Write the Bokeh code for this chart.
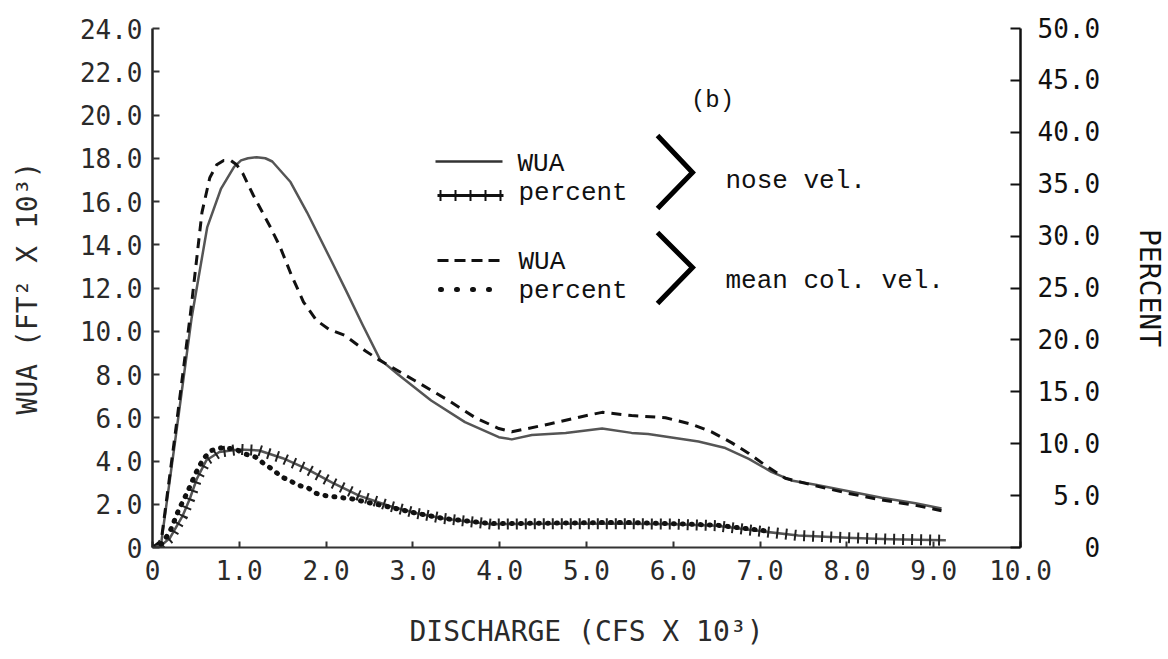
import math
from bokeh.plotting import figure
from bokeh.models import Range1d, LinearAxis, Label, FixedTicker
from bokeh.embed import file_html
from bokeh.resources import INLINE

# ---------------- data ----------------
# WUA, nose velocity (solid), FT^2 x 10^3
q_wua_nose = [0.0, 0.1, 0.26, 0.45, 0.63, 0.79, 0.94, 1.02, 1.10, 1.20, 1.30, 1.38, 1.59, 1.78,
              2.08, 2.24, 2.42, 2.62, 2.83, 3.21, 3.60, 3.99, 4.14, 4.37, 4.76, 5.18, 5.52, 5.71,
              6.29, 6.60, 6.87, 7.13, 7.36, 7.64, 8.02, 8.40, 8.79, 9.09]
wua_nose = [0.0, 0.2, 4.9, 10.6, 14.8, 16.6, 17.6, 17.9, 18.0, 18.05, 18.0, 17.85, 16.9, 15.5,
            13.1, 11.8, 10.3, 8.7, 8.0, 6.8, 5.8, 5.1, 5.0, 5.2, 5.3, 5.5, 5.3, 5.25,
            4.9, 4.6, 4.1, 3.5, 3.1, 2.9, 2.6, 2.3, 2.05, 1.8]

# WUA, mean column velocity (dashed)
q_wua_mean = [0.0, 0.1, 0.26, 0.44, 0.57, 0.66, 0.74, 0.82, 0.90, 0.97, 1.04, 1.10, 1.16, 1.28,
              1.36, 1.47, 1.60, 1.74, 1.89, 2.03, 2.22, 2.45, 2.60, 3.03, 3.41, 3.72, 3.99, 4.14,
              4.56, 4.94, 5.18, 5.52, 5.91, 6.21, 6.44, 6.67, 6.87, 7.06, 7.29, 7.64, 8.02, 8.40,
              8.79, 9.09]
wua_mean = [0.0, 0.3, 5.2, 10.9, 15.5, 17.1, 17.7, 17.9, 17.9, 17.7, 17.3, 16.8, 16.3, 15.4,
            14.8, 13.9, 12.6, 11.35, 10.5, 10.1, 9.8, 9.1, 8.7, 7.7, 6.8, 6.0, 5.5, 5.35,
            5.7, 6.05, 6.25, 6.1, 6.0, 5.7, 5.35, 4.85, 4.35, 3.8, 3.2, 2.85, 2.5, 2.2,
            1.95, 1.7]

# percent, nose velocity (crossed line), %
q_pct_nose = [0.0, 0.1, 0.2, 0.35, 0.43, 0.51, 0.62, 0.77, 1.0, 1.23, 1.5, 1.77, 2.07, 2.38,
              2.73, 3.04, 3.35, 3.9, 4.68, 5.14, 5.5, 6.0, 6.5, 6.87, 7.44, 8.0, 8.5, 9.14]
pct_nose = [0.0, 0.2, 0.9, 3.1, 4.7, 6.6, 8.4, 9.2, 9.45, 9.35, 8.6, 7.6, 6.25, 5.0,
            4.0, 3.3, 2.8, 2.25, 2.3, 2.3, 2.3, 2.25, 2.1, 1.7, 1.15, 0.95, 0.8, 0.7]

# percent, mean column velocity (dotted), %
q_pct_mean = [0.0, 0.1, 0.2, 0.3, 0.4, 0.5, 0.59, 0.68, 0.79, 0.95, 1.07, 1.19, 1.28, 1.37,
              1.49, 1.59, 1.68, 1.80, 1.89, 1.99, 2.18, 2.29, 2.5, 2.73, 3.04, 3.35, 3.9, 4.68,
              5.14, 5.5, 6.0, 6.5, 6.87, 7.06]
pct_mean = [0.0, 0.3, 1.5, 3.6, 5.3, 7.2, 8.6, 9.35, 9.6, 9.5, 9.0, 8.7, 8.1, 7.6,
            6.8, 6.4, 6.0, 5.7, 5.2, 5.0, 4.8, 4.7, 4.3, 3.9, 3.3, 2.8, 2.3, 2.35,
            2.4, 2.4, 2.3, 2.15, 1.8, 1.6]

# axes ticks and labels
x_ticks = [0, 1, 2, 3, 4, 5, 6, 7, 8, 9, 10]
x_tick_labels = ["0", "1.0", "2.0", "3.0", "4.0", "5.0", "6.0", "7.0", "8.0", "9.0", "10.0"]
wua_ticks = [0, 2, 4, 6, 8, 10, 12, 14, 16, 18, 20, 22, 24]
wua_tick_labels = ["0", "2.0", "4.0", "6.0", "8.0", "10.0", "12.0", "14.0", "16.0", "18.0",
                   "20.0", "22.0", "24.0"]
pct_ticks = [0, 5, 10, 15, 20, 25, 30, 35, 40, 45, 50]
pct_tick_labels = ["0", "5.0", "10.0", "15.0", "20.0", "25.0", "30.0", "35.0", "40.0",
                   "45.0", "50.0"]

x_title = "DISCHARGE (CFS X 10³)"
y_title = "WUA (FT² X 10³)"
y2_title = "PERCENT"
panel_tag = "(b)"
legend_wua = "WUA"
legend_pct = "percent"
group_nose = "nose vel."
group_mean = "mean col. vel."

# ---------------- layout ----------------
BL, BR, BT, BB = 152, 140, 28, 104
FW, FH = 868, 519
FL, FT = BL, BT
X_MAX, Y_MAX, P_MAX = 10.0, 24.0, 50.0


def X(px):  # picture pixel -> data x
    return (px - FL) / FW * X_MAX


def Y(py):  # picture pixel -> data y (left axis)
    return (FT + FH - py) / FH * Y_MAX


AX_FONT = "DejaVu Sans Mono"
LEG_FONT = "Liberation Mono"
GRAY = "#555555"
FIGSP = "\u2007"

p = figure(frame_width=FW, frame_height=FH,
           min_border_left=BL, min_border_right=BR, min_border_top=BT, min_border_bottom=BB,
           x_range=Range1d(0, X_MAX), y_range=Range1d(0, Y_MAX),
           output_backend="svg", toolbar_location=None)
p.extra_y_ranges = {"pct": Range1d(0, P_MAX)}
p.grid.visible = False
p.outline_line_color = None
p.background_fill_color = "white"
p.border_fill_color = "white"

# x axis
xa = p.xaxis[0]
xa.ticker = FixedTicker(ticks=x_ticks)
xa.major_label_overrides = {t: l for t, l in zip(x_ticks, x_tick_labels)}
xa.major_tick_in = 6
xa.major_tick_out = 0
xa.minor_tick_line_color = None
xa.axis_line_width = 2
xa.axis_line_color = "#333333"
xa.major_tick_line_width = 2
xa.major_tick_line_color = "#333333"
xa.major_label_text_font = AX_FONT
xa.major_label_text_font_size = "26px"
xa.major_label_text_color = "#2a2a2a"
xa.major_label_standoff = 12
xa.axis_label = x_title
xa.axis_label_text_font = AX_FONT
xa.axis_label_text_font_size = "28px"
xa.axis_label_text_font_style = "normal"
xa.axis_label_text_color = "#2a2a2a"
xa.axis_label_standoff = 32

# left axis
ya = p.yaxis[0]
ya.ticker = FixedTicker(ticks=wua_ticks)
ya.major_label_overrides = {t: l for t, l in zip(wua_ticks, wua_tick_labels)}
ya.major_tick_in = 7
ya.major_tick_out = 0
ya.minor_tick_line_color = None
ya.axis_line_width = 2.5
ya.axis_line_color = "#222222"
ya.major_tick_line_width = 2
ya.major_tick_line_color = "#333333"
ya.major_label_text_font = AX_FONT
ya.major_label_text_font_size = "26px"
ya.major_label_text_color = "#2a2a2a"
ya.major_label_standoff = 10
ya.axis_label = y_title
ya.axis_label_text_font = AX_FONT
ya.axis_label_text_font_size = "28px"
ya.axis_label_text_font_style = "normal"
ya.axis_label_text_color = "#2a2a2a"
ya.axis_label_standoff = 33

# right axis (labels right-aligned with figure spaces in a monospace font)
ra = LinearAxis(y_range_name="pct", ticker=FixedTicker(ticks=pct_ticks))
ra.major_label_overrides = {t: l.rjust(4, FIGSP) for t, l in zip(pct_ticks, pct_tick_labels)}
ra.major_tick_in = 10
ra.major_tick_out = 0
ra.minor_tick_line_color = None
ra.axis_line_width = 2.5
ra.axis_line_color = "#111111"
ra.major_tick_line_width = 2
ra.major_tick_line_color = "#111111"
ra.major_label_text_font = AX_FONT
ra.major_label_text_font_size = "26px"
ra.major_label_text_color = "#111111"
ra.major_label_standoff = 17
ra.axis_label = y2_title
ra.axis_label_text_font = AX_FONT
ra.axis_label_text_font_size = "28px"
ra.axis_label_text_font_style = "normal"
ra.axis_label_text_color = "#111111"
ra.axis_label_standoff = 30
p.add_layout(ra, "right")

# ---------------- curves ----------------
p.line(q_wua_nose, wua_nose, line_color=GRAY, line_width=2.5, line_join="round")
p.line(q_wua_mean, wua_mean, line_color="#111111", line_width=3, line_dash="10 7",
       line_join="round")

p.line(q_pct_nose, pct_nose, y_range_name="pct", line_color=GRAY, line_width=2.5,
       line_join="round")
p.line(q_pct_nose, pct_nose, y_range_name="pct", line_color="#222222", line_width=11,
       line_dash="2 7")
p.line(q_pct_mean, pct_mean, y_range_name="pct", line_color="#111111", line_width=5,
       line_dash="1 8", line_cap="round")

# ---------------- legend (drawn) ----------------
p.line([X(435), X(502)], [Y(161), Y(161)], line_color="#333333", line_width=2.5)
p.line([X(437), X(503)], [Y(195), Y(195)], line_color="#111111", line_width=3)
p.line([X(439), X(503)], [Y(195), Y(195)], line_color="#111111", line_width=11,
       line_dash="2 13")
p.line([X(437), X(500)], [Y(260), Y(260)], line_color="#111111", line_width=3,
       line_dash="11 6")
p.line([X(440), X(492)], [Y(289), Y(289)], line_color="#111111", line_width=5,
       line_dash="1 15", line_cap="round")

for top, mid, bot in ((135, 172, 208), (232, 267, 303)):
    p.line([X(657), X(692), X(657)], [Y(top), Y(mid), Y(bot)], line_color="#000000",
           line_width=5, line_join="miter")

for txt, px, py in ((legend_wua, 517, 163), (legend_pct, 518, 192),
                    (legend_wua, 518, 261), (legend_pct, 518, 290),
                    (group_nose, 725, 180), (group_mean, 725, 280)):
    p.add_layout(Label(x=X(px), y=Y(py), text=txt, text_font=LEG_FONT, text_font_size="26px",
                       text_align="left", text_baseline="middle", text_color="#111111"))

p.add_layout(Label(x=X(712), y=Y(100), text=panel_tag, text_font=LEG_FONT,
                   text_font_size="24px", text_align="center", text_baseline="middle",
                   text_color="#111111"))

open("out.html", "w").write(file_html(p, INLINE))
